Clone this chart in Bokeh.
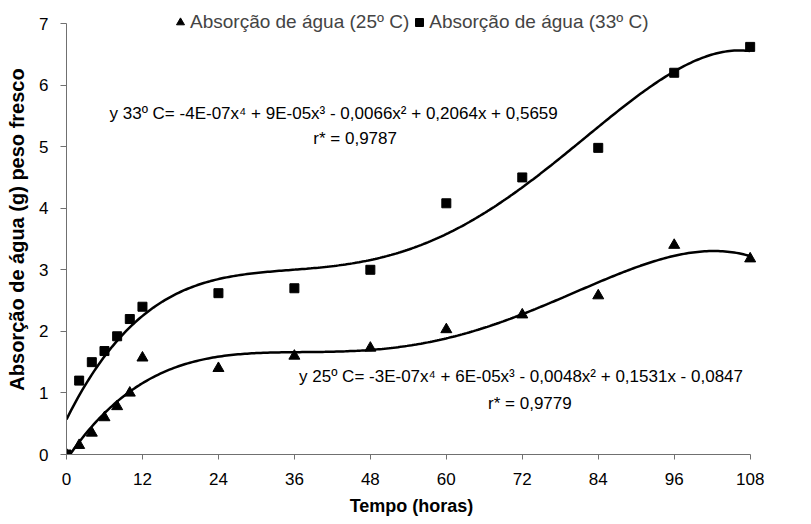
import numpy as np
from bokeh.plotting import figure
from bokeh.models import ColumnDataSource, Legend, LegendItem, FixedTicker, Range1d, Label
from bokeh.embed import file_html
from bokeh.resources import INLINE

# ---- data ----
tempo = [0, 2, 4, 6, 8, 10, 12, 24, 36, 48, 60, 72, 84, 96, 108]
agua_25 = [0, 0.15, 0.35, 0.60, 0.78, 1.00, 1.57, 1.40, 1.60, 1.73, 2.03, 2.27, 2.58, 3.40, 3.18]
agua_33 = [0, 1.20, 1.50, 1.68, 1.92, 2.20, 2.40, 2.62, 2.70, 3.00, 4.08, 4.50, 4.98, 6.20, 6.62]
x_ticks = [0, 12, 24, 36, 48, 60, 72, 84, 96, 108]
y_ticks = [0, 1, 2, 3, 4, 5, 6, 7]
eq_33 = "y 33º C= -4E-07x⁴ + 9E-05x³ - 0,0066x² + 0,2064x + 0,5659"
r_33 = "r* = 0,9787"
eq_25 = "y 25º C= -3E-07x⁴ + 6E-05x³ - 0,0048x² + 0,1531x - 0,0847"
r_25 = "r* = 0,9779"
label_25 = "Absorção de água (25º C)"
label_33 = "Absorção de água (33º C)"

# polynomial trend lines (4th order, as in the original)
xs = np.linspace(0, 108, 300)
fit_25 = np.polyval(np.polyfit(tempo, agua_25, 4), xs)
fit_33 = np.polyval(np.polyfit(tempo, agua_33, 4), xs)

FONT = "Liberation Sans"
AXIS_GRAY = "#707070"

p = figure(width=803, height=520, output_backend="svg", toolbar_location=None,
           x_range=Range1d(0, 109), y_range=Range1d(0, 7.3086),
           min_border_left=66, min_border_right=47, min_border_top=4, min_border_bottom=66)
p.outline_line_color = None
p.grid.grid_line_color = None
p.background_fill_color = "white"

p.xaxis.ticker = FixedTicker(ticks=x_ticks)
p.yaxis.ticker = FixedTicker(ticks=y_ticks)
p.xaxis.bounds = (0, 108)
p.yaxis.bounds = (0, 7)
for ax in (p.xaxis, p.yaxis):
    ax.axis_line_color = AXIS_GRAY
    ax.major_tick_line_color = AXIS_GRAY
    ax.major_tick_in = 0
    ax.minor_tick_line_color = None
    ax.major_label_text_font = FONT
    ax.major_label_text_font_size = "17px"
    ax.major_label_text_color = "black"
    ax.axis_label_text_font = FONT
    ax.axis_label_text_font_style = "bold"
    ax.axis_label_text_color = "black"
p.xaxis.axis_label_text_font_size = "18px"
p.yaxis.axis_label_text_font_size = "20px"
p.xaxis.major_tick_out = 5
p.yaxis.major_tick_out = 6
p.xaxis.axis_label = "Tempo (horas)"
p.yaxis.axis_label = "Absorção de água (g) peso fresco"
p.xaxis.major_label_standoff = 13
p.yaxis.major_label_standoff = 12
p.xaxis.axis_label_standoff = 8
p.yaxis.axis_label_standoff = 8

p.line(xs, fit_33, line_color="black", line_width=2.5)
p.line(xs, fit_25, line_color="black", line_width=2.5)

src = ColumnDataSource(dict(x=tempo, y25=agua_25, y33=agua_33))
r25 = p.scatter("x", "y25", source=src, marker="triangle", size=11, color="black")
r33 = p.scatter("x", "y33", source=src, marker="square", size=9, color="black")

legend = Legend(items=[LegendItem(label=label_25, renderers=[r25]),
                       LegendItem(label=label_33, renderers=[r33])],
                orientation="horizontal", location=(104, 421),
                border_line_color=None, background_fill_alpha=0,
                label_text_font=FONT, label_text_font_size="19px",
                glyph_width=20, glyph_height=22, label_standoff=0, spacing=0,
                padding=0, margin=0)
p.add_layout(legend, "center")

for txt, xx, yy in [(eq_33, 42.2, 5.54), (r_33, 45.6, 5.13), (eq_25, 71.8, 1.27), (r_25, 73.2, 0.83)]:
    p.add_layout(Label(x=xx, y=yy, text=txt, text_font=FONT, text_font_size="17px",
                       text_align="center", text_baseline="middle", text_color="black"))

open("out.html", "w").write(file_html(p, INLINE))
